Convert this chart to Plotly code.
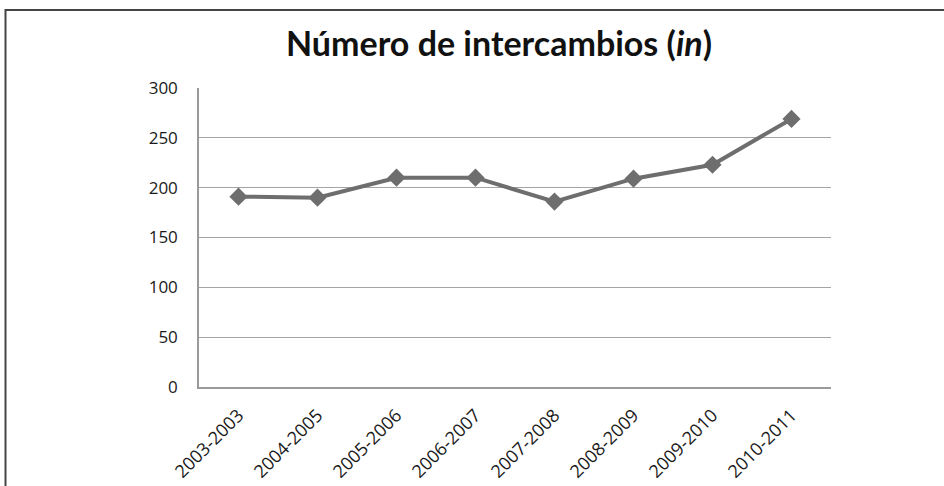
import plotly.graph_objects as go

categories = ["2003-2003", "2004-2005", "2005-2006", "2006-2007",
              "2007-2008", "2008-2009", "2009-2010", "2010-2011"]
values = [191, 190, 210, 210, 186, 209, 223, 269]
y_ticks = [0, 50, 100, 150, 200, 250, 300]

W, H = 944, 486
L, R, T, B = 199, 113, 88, 99
pw, ph = W - L - R, H - T - B

fig = go.Figure()
fig.add_trace(go.Scatter(
    x=categories, y=values, mode="lines+markers",
    line=dict(color="#6e6e6e", width=4),
    marker=dict(symbol="diamond", size=14, color="#6e6e6e"),
    showlegend=False,
))

fig.update_layout(
    width=W, height=H,
    margin=dict(l=L, r=R, t=T, b=B, autoexpand=False),
    paper_bgcolor="white", plot_bgcolor="white",
    font=dict(family="Open Sans, Lato, sans-serif", size=17, color="#1a1a1a"),
    title=dict(
        text="<b>Número de intercambios (<i>in</i>)</b>",
        x=499 / W, xanchor="center", y=1 - 44 / H, yanchor="middle",
        font=dict(family="Lato, Open Sans, sans-serif", size=34, color="#111"),
    ),
    xaxis=dict(
        type="category", tickangle=-45, showgrid=False, automargin=False,
        showline=True, linecolor="#9a9a9a", linewidth=1.5,
        ticks="", ticklabelstandoff=9,
        tickfont=dict(size=18, color="#1a1a1a"),
        range=[-0.5, 7.5],
    ),
    yaxis=dict(
        range=[0, 300], tickvals=y_ticks, showgrid=True, automargin=False,
        gridcolor="#a4a4a4", gridwidth=1.3, zeroline=False,
        showline=True, linecolor="#9a9a9a", linewidth=1.5,
        ticks="", ticklabelstandoff=16,
        tickfont=dict(size=17, color="#1a1a1a"),
    ),
    shapes=[dict(
        type="rect", xref="paper", yref="paper",
        x0=(5.5 - L) / pw, x1=(960 - L) / pw,
        y0=(H - B - 500) / ph, y1=(H - B - 10) / ph,
        line=dict(color="#444", width=2), fillcolor="rgba(0,0,0,0)",
        layer="below",
    )],
)

fig.write_html(
    "out.html",
    config={"displayModeBar": False},
    post_script="document.body.style.margin='0';document.body.style.overflow='hidden';",
)
